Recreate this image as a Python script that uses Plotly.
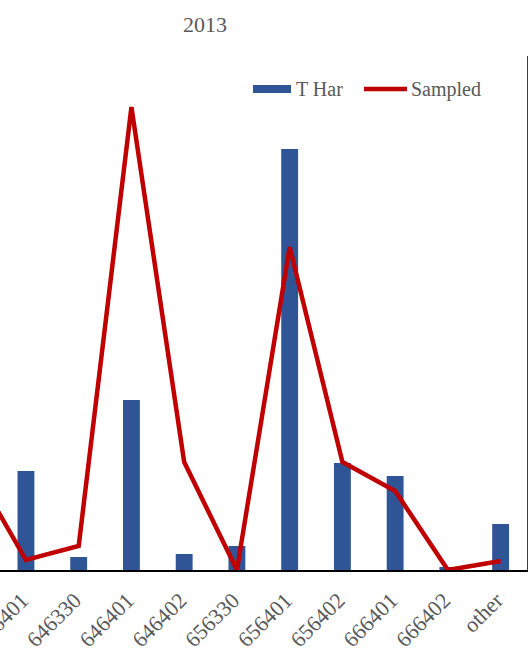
import plotly.graph_objects as go

categories = ["636330", "636401", "646330", "646401", "646402", "656330",
              "656401", "656402", "666401", "666402", "other"]
t_har = [60, 99, 13, 170, 16, 24, 421, 107, 94, 3, 46]
sampled = [102, 10, 24, 463, 108, 0, 323, 108, 79, 0, 9]

BLUE = "#2F5597"
RED = "#C00000"
GRAY = "#595959"
FONT = "Liberation Serif"

fig = go.Figure()
fig.add_trace(go.Bar(x=categories, y=t_har, name="T Har", marker_color=BLUE,
                     marker_line_width=0, showlegend=False))
fig.add_trace(go.Scatter(x=categories, y=sampled, name="Sampled", mode="lines",
                         line=dict(color=RED, width=4.5), showlegend=False))

# custom legend
fig.add_shape(type="rect", xref="paper", yref="paper",
              x0=253/527, x1=291/527, y0=(570-93)/514, y1=(570-85)/514,
              fillcolor=BLUE, line_width=0)
fig.add_shape(type="line", xref="paper", yref="paper",
              x0=364/527, x1=407/527, y0=(570-89)/514, y1=(570-89)/514,
              line=dict(color=RED, width=4.5))
fig.add_annotation(text="T Har", xref="paper", yref="paper", x=294/527, y=(570-89)/514,
                   xanchor="left", yanchor="middle", showarrow=False,
                   font=dict(family=FONT, size=20, color=GRAY))
fig.add_annotation(text="Sampled", xref="paper", yref="paper", x=409/527, y=(570-89)/514,
                   xanchor="left", yanchor="middle", showarrow=False,
                   font=dict(family=FONT, size=20, color=GRAY))
fig.add_annotation(text="2013", xref="paper", yref="paper", x=205/527, y=(570-25)/514,
                   xanchor="center", yanchor="middle", showarrow=False,
                   font=dict(family=FONT, size=22, color=GRAY))

fig.update_layout(
    width=528, height=651,
    margin=dict(l=0, r=1, t=56, b=81),
    paper_bgcolor="white", plot_bgcolor="white",
    bargap=0.68,
    font=dict(family=FONT, color=GRAY),
)
fig.update_xaxes(range=[0.508, 10.5], tickangle=-45, showline=True, linecolor="black",
                 linewidth=1.5, ticks="", showgrid=False, zeroline=False,
                 ticklabelstandoff=7, ticklabelshift=-4,
                 tickfont=dict(family=FONT, size=22, color=GRAY), automargin=False)
fig.update_yaxes(range=[0, 514], showgrid=False, zeroline=False, showticklabels=False,
                 side="right", showline=True, linecolor="#404040", linewidth=1.5,
                 ticks="", automargin=False)

fig.write_html("out.html", config={"displayModeBar": False},
               post_script="document.body.style.margin='0';document.body.style.overflow='hidden';")
